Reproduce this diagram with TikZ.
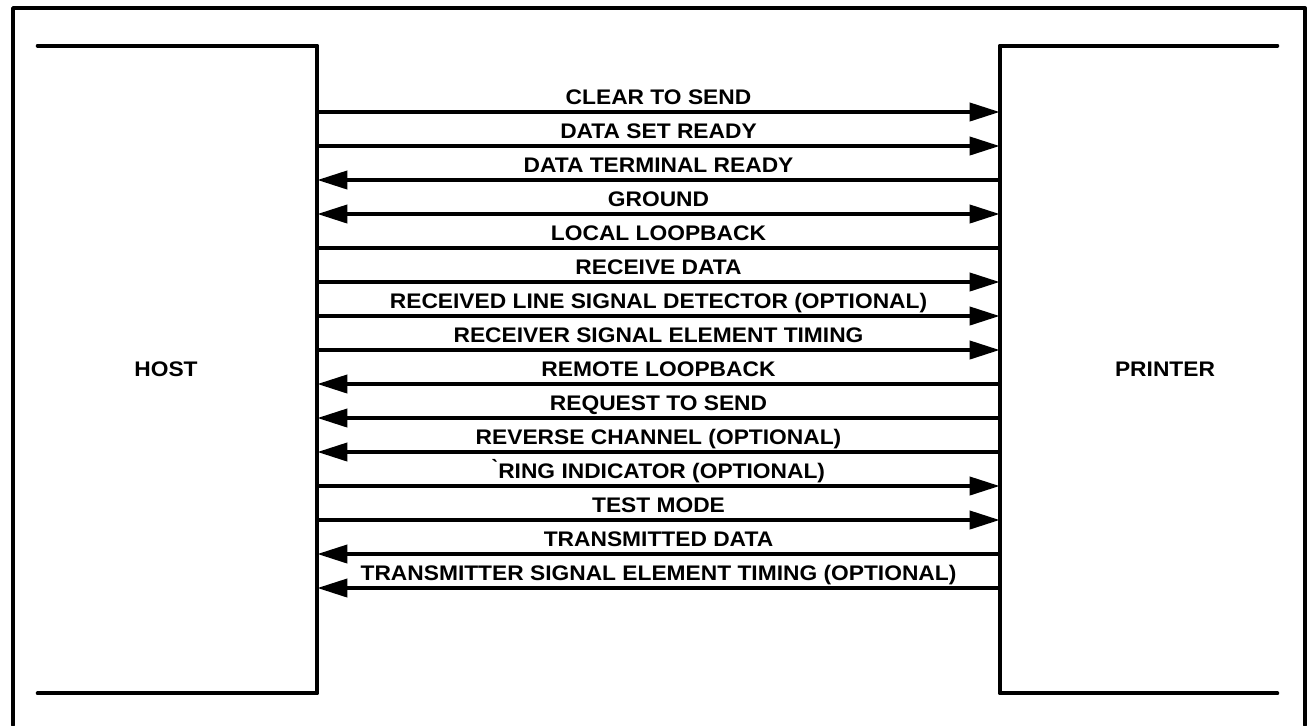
\documentclass[tikz,border=0pt]{standalone}
\usepackage{fontspec}
\setmainfont{Liberation Sans}[FakeStretch=1.08]
\usetikzlibrary{arrows.meta,positioning}
\tikzset{
  unit_box/.style={rectangle,draw=none,inner sep=0pt,minimum height=12.94cm},
  unit_name/.style={inner sep=0pt,font=\fontsize{12}{14}\selectfont\bfseries},
  frame_line/.style={line width=2.2pt,line join=round,line cap=round},
  sig_line/.style={line width=2.2pt,draw=black},
  sig_to/.style={sig_line,-{Triangle[length=0.6cm,width=0.36cm]}},
  sig_from/.style={sig_line,{Triangle[length=0.6cm,width=0.36cm]}-},
  sig_both/.style={sig_line,{Triangle[length=0.6cm,width=0.36cm]}-{Triangle[length=0.6cm,width=0.36cm]}},
  sig_lbl/.style={midway,anchor=base,yshift=0.16cm,inner sep=0pt,
    font=\fontsize{12}{14}\selectfont\bfseries},
}
\begin{document}
\begin{tikzpicture}[x=0.02cm,y=-0.02cm]
  \useasboundingbox (0,0) rectangle (1308,725);
  % outer frame
  \draw[frame_line] (13,725) -- (13,8) -- (1305,8) -- (1305,725);
  % the two units
  \node (host) [unit_box,minimum width=5.58cm] at (177.5,369.5) {};
  \node (printer) [unit_box,minimum width=5.54cm] at (1138.5,369.5) {};
  \node (hostname) [unit_name] at (166,369.5) {HOST};
  \node (printername) [unit_name] at (1165,369.5) {PRINTER};
  \draw[frame_line] (host.north west) -- (host.north east) -- (host.south east) -- (host.south west);
  \draw[frame_line] (printer.north east) -- (printer.north west) -- (printer.south west) -- (printer.south east);
  % signal rows
  \coordinate (r1) at (0,112);  \coordinate (r2) at (0,146);  \coordinate (r3) at (0,180);
  \coordinate (r4) at (0,214);  \coordinate (r5) at (0,248);  \coordinate (r6) at (0,282);
  \coordinate (r7) at (0,316);  \coordinate (r8) at (0,350);  \coordinate (r9) at (0,384);
  \coordinate (r10) at (0,418); \coordinate (r11) at (0,452); \coordinate (r12) at (0,486);
  \coordinate (r13) at (0,520); \coordinate (r14) at (0,554); \coordinate (r15) at (0,588);
  \draw[sig_to] (host.east |- r1) -- (printer.west |- r1) node[sig_lbl]{CLEAR TO SEND};
  \draw[sig_to] (host.east |- r2) -- (printer.west |- r2) node[sig_lbl]{DATA SET READY};
  \draw[sig_from] (host.east |- r3) -- (printer.west |- r3) node[sig_lbl]{DATA TERMINAL READY};
  \draw[sig_both] (host.east |- r4) -- (printer.west |- r4) node[sig_lbl]{GROUND};
  \draw[sig_line] (host.east |- r5) -- (printer.west |- r5) node[sig_lbl]{LOCAL LOOPBACK};
  \draw[sig_to] (host.east |- r6) -- (printer.west |- r6) node[sig_lbl]{RECEIVE DATA};
  \draw[sig_to] (host.east |- r7) -- (printer.west |- r7) node[sig_lbl]{RECEIVED LINE SIGNAL DETECTOR (OPTIONAL)};
  \draw[sig_to] (host.east |- r8) -- (printer.west |- r8) node[sig_lbl]{RECEIVER SIGNAL ELEMENT TIMING};
  \draw[sig_from] (host.east |- r9) -- (printer.west |- r9) node[sig_lbl]{REMOTE LOOPBACK};
  \draw[sig_from] (host.east |- r10) -- (printer.west |- r10) node[sig_lbl]{REQUEST TO SEND};
  \draw[sig_from] (host.east |- r11) -- (printer.west |- r11) node[sig_lbl]{REVERSE CHANNEL (OPTIONAL)};
  \draw[sig_to] (host.east |- r12) -- (printer.west |- r12) node[sig_lbl]{\`{}RING INDICATOR (OPTIONAL)};
  \draw[sig_to] (host.east |- r13) -- (printer.west |- r13) node[sig_lbl]{TEST MODE};
  \draw[sig_from] (host.east |- r14) -- (printer.west |- r14) node[sig_lbl]{TRANSMITTED DATA};
  \draw[sig_from] (host.east |- r15) -- (printer.west |- r15) node[sig_lbl]{TRANSMITTER SIGNAL ELEMENT TIMING (OPTIONAL)};
\end{tikzpicture}
\end{document}
